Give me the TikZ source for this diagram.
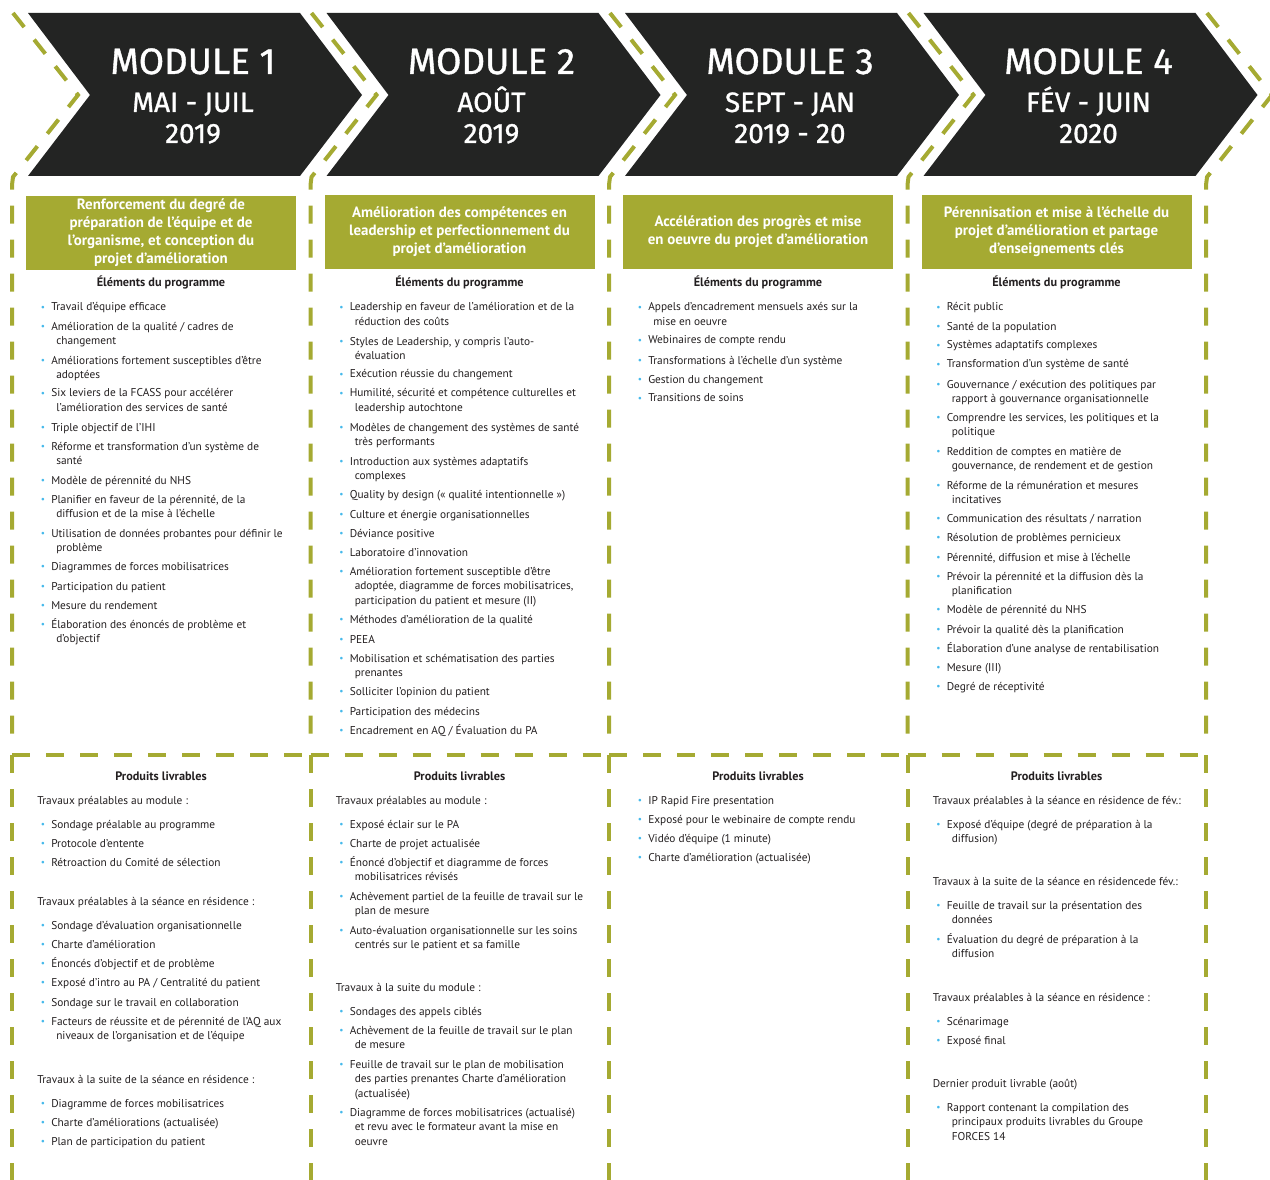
\documentclass[tikz,border=0pt]{standalone}
\usepackage{fontspec}
\setmainfont{PT Sans}
\newfontfamily\hdrfont[FakeBold=1]{Fira Sans}
\definecolor{chev}{RGB}{35,36,35}
\definecolor{olive}{RGB}{165,170,50}
\definecolor{txt}{RGB}{35,31,32}
\definecolor{bul}{RGB}{70,185,235}
\newcommand\bulmark{\llap{\textcolor{bul}{\fontsize{7pt}{7pt}\selectfont\raisebox{0.2pt}{•}}\hspace{4.6pt}}}
\newcommand\cind{\hspace*{3.75pt}}
\tikzset{
  itm/.style={anchor=base west, inner sep=0pt, text=txt, font=\fontsize{8.5pt}{10.9pt}\selectfont},
  hd/.style={anchor=base, inner sep=0pt, text=txt, font=\fontsize{9.2pt}{11pt}\selectfont\bfseries},
  gbox/.style={fill=olive, text=white, minimum width=202.5pt, minimum height=55.5pt, inner sep=0pt, align=center, font=\fontsize{11.2pt}{13.5pt}\selectfont\bfseries},
  mtitle/.style={anchor=base, inner sep=0pt, text=white, font=\hdrfont\fontsize{27.5pt}{27pt}\selectfont},
  msub/.style={anchor=base, inner sep=0pt, text=white, font=\hdrfont\fontsize{21pt}{21pt}\selectfont},
  dsh/.style={draw=olive, line width=3pt, dash pattern=on 13.5pt off 12pt},
}
\newcommand\myitem[4]{\node[itm] (#1) at ({51+298.5*#2},{#3+4}) {\bulmark\begin{tabular}[t]{@{}l@{}}#4\end{tabular}};}
\newcommand\myintro[4]{\node[itm] (#1) at ({37+298.5*#2},{#3+4}) {#4};}
\begin{document}
\begin{tikzpicture}[x=0.75pt,y=-0.75pt]
\path[use as bounding box] (0,0) rectangle (1270,1180);
\clip (0,0) rectangle (1270,1180);
% chevrons
\foreach \k in {0,...,3}{
  \fill[chev] ({28+298.5*\k},13) -- ({300+298.5*\k},13) -- ({362+298.5*\k},95) -- ({300+298.5*\k},176) -- ({28+298.5*\k},176) -- ({90+298.5*\k},95) -- cycle;
}
% dashed lines
\foreach \k in {0,...,4}{
  \draw[dsh] ({13+298.5*\k},13) -- ({78+298.5*\k},95) -- ({13+298.5*\k},177) -- ({12+298.5*\k},185) -- ({12+298.5*\k},748);
  \draw[dsh] ({12+298.5*\k},755) -- ({12+298.5*\k},1190);
}
\foreach \k in {0,...,3}{
  \draw[dsh] ({12+298.5*\k},755) -- ({12+298.5*(\k+1)},755);
}
% module headers
\foreach \k/\a/\b in {0/MAI - JUIL/2019, 1/AOÛT/2019, 2/SEPT - JAN/2019 - 20, 3/FÉV - JUIN/2020}{
  \pgfmathtruncatemacro\n{\k+1}
  \node[mtitle] (m\n) at ({193+298.5*\k},74) {MODULE \n};
  \node[msub] (md\n) at ({193+298.5*\k},112) {\a};
  \node[msub] (my\n) at ({193+298.5*\k},143) {\b};
}
% green title boxes
\node[gbox] (t1) at (161,233) {Renforcement du degré de\\préparation de l’équipe et de\\l’organisme, et conception du\\projet d’amélioration};
\node[gbox] (t2) at ({161+298.5},232) {Amélioration des compétences en\\leadership et perfectionnement du\\projet d’amélioration};
\node[gbox] (t3) at ({161+597},232) {Accélération des progrès et mise\\en oeuvre du projet d’amélioration};
\node[gbox] (t4) at ({161+895.5},232) {Pérennisation et mise à l’échelle du\\projet d’amélioration et partage\\d’enseignements clés};
% headings
\foreach \k in {0,...,3}{
  \node[hd] (pe\k) at ({161+298.5*\k},287) {Éléments du programme};
  \node[hd] (pl\k) at ({161+298.5*\k},780) {Produits livrables};
}
% column 1 elements
\myitem{a1}{0}{307}{Travail d’équipe efficace}
\myitem{a2}{0}{326}{Amélioration de la qualité / cadres de\\\cind changement}
\myitem{a3}{0}{360}{Améliorations fortement susceptibles d’être\\\cind adoptées}
\myitem{a4}{0}{393}{Six leviers de la FCASS pour accélérer\\\cind l’amélioration des services de santé}
\myitem{a5}{0}{427}{Triple objectif de l’IHI}
\myitem{a6}{0}{446}{Réforme et transformation d’un système de\\\cind santé}
\myitem{a7}{0}{480}{Modèle de pérennité du NHS}
\myitem{a8}{0}{499}{Planifier en faveur de la pérennité, de la\\\cind diffusion et de la mise à l’échelle}
\myitem{a9}{0}{533}{Utilisation de données probantes pour définir le\\\cind problème}
\myitem{a10}{0}{566}{Diagrammes de forces mobilisatrices}
\myitem{a11}{0}{586}{Participation du patient}
\myitem{a12}{0}{605}{Mesure du rendement}
\myitem{a13}{0}{624}{Élaboration des énoncés de problème et\\\cind d’objectif}
% column 2 elements
\myitem{b1}{1}{307}{Leadership en faveur de l’amélioration et de la\\\cind réduction des coûts}
\myitem{b2}{1}{341}{Styles de Leadership, y compris l’auto-\\\cind évaluation}
\myitem{b3}{1}{374}{Exécution réussie du changement}
\myitem{b4}{1}{393}{Humilité, sécurité et compétence culturelles et\\\cind leadership autochtone}
\myitem{b5}{1}{427}{Modèles de changement des systèmes de santé\\\cind très performants}
\myitem{b6}{1}{461}{Introduction aux systèmes adaptatifs\\\cind complexes}
\myitem{b7}{1}{494}{Quality by design (« qualité intentionnelle »)}
\myitem{b8}{1}{514}{Culture et énergie organisationnelles}
\myitem{b9}{1}{533}{Déviance positive}
\myitem{b10}{1}{552}{Laboratoire d’innovation}
\myitem{b11}{1}{571}{Amélioration fortement susceptible d’être\\\cind adoptée, diagramme de forces mobilisatrices,\\\cind participation du patient et mesure (II)}
\myitem{b12}{1}{619}{Méthodes d’amélioration de la qualité}
\myitem{b13}{1}{639}{PEEA}
\myitem{b14}{1}{658}{Mobilisation et schématisation des parties\\\cind prenantes}
\myitem{b15}{1}{691}{Solliciter l’opinion du patient}
\myitem{b16}{1}{711}{Participation des médecins}
\myitem{b17}{1}{730}{Encadrement en AQ / Évaluation du PA}
% column 3 elements
\myitem{c1}{2}{307}{Appels d’encadrement mensuels axés sur la\\\cind mise en oeuvre}
\myitem{c2}{2}{340}{Webinaires de compte rendu}
\myitem{c3}{2}{360}{Transformations à l’échelle d’un système}
\myitem{c4}{2}{379}{Gestion du changement}
\myitem{c5}{2}{398}{Transitions de soins}
% column 4 elements
\myitem{d1}{3}{307}{Récit public}
\myitem{d2}{3}{326}{Santé de la population}
\myitem{d3}{3}{345}{Systèmes adaptatifs complexes}
\myitem{d4}{3}{364}{Transformation d’un système de santé}
\myitem{d5}{3}{384}{Gouvernance / exécution des politiques par\\\cind rapport à gouvernance organisationnelle}
\myitem{d6}{3}{417}{Comprendre les services, les politiques et la\\\cind politique}
\myitem{d7}{3}{451}{Reddition de comptes en matière de\\\cind gouvernance, de rendement et de gestion}
\myitem{d8}{3}{485}{Réforme de la rémunération et mesures\\\cind incitatives}
\myitem{d9}{3}{518}{Communication des résultats / narration}
\myitem{d10}{3}{537}{Résolution de problèmes pernicieux}
\myitem{d11}{3}{557}{Pérennité, diffusion et mise à l’échelle}
\myitem{d12}{3}{576}{Prévoir la pérennité et la diffusion dès la\\\cind planification}
\myitem{d13}{3}{609}{Modèle de pérennité du NHS}
\myitem{d14}{3}{629}{Prévoir la qualité dès la planification}
\myitem{d15}{3}{648}{Élaboration d’une analyse de rentabilisation}
\myitem{d16}{3}{667}{Mesure (III)}
\myitem{d17}{3}{686}{Degré de réceptivité}
% deliverables column 1
\myintro{p1a}{0}{800}{Travaux préalables au module :}
\myitem{p1a1}{0}{824}{Sondage préalable au programme}
\myitem{p1a2}{0}{843}{Protocole d’entente}
\myitem{p1a3}{0}{862}{Rétroaction du Comité de sélection}
\myintro{p1b}{0}{901}{Travaux préalables à la séance en résidence :}
\myitem{p1b1}{0}{925}{Sondage d’évaluation organisationnelle}
\myitem{p1b2}{0}{944}{Charte d’amélioration}
\myitem{p1b3}{0}{963}{Énoncés d’objectif et de problème}
\myitem{p1b4}{0}{982}{Exposé d’intro au PA / Centralité du patient}
\myitem{p1b5}{0}{1002}{Sondage sur le travail en collaboration}
\myitem{p1b6}{0}{1021}{Facteurs de réussite et de pérennité de l’AQ aux\\\cind niveaux de l’organisation et de l’équipe}
\myintro{p1c}{0}{1079}{Travaux à la suite de la séance en résidence :}
\myitem{p1c1}{0}{1103}{Diagramme de forces mobilisatrices}
\myitem{p1c2}{0}{1122}{Charte d’améliorations (actualisée)}
\myitem{p1c3}{0}{1141}{Plan de participation du patient}
% deliverables column 2
\myintro{p2a}{1}{800}{Travaux préalables au module :}
\myitem{p2a1}{1}{824}{Exposé éclair sur le PA}
\myitem{p2a2}{1}{843}{Charte de projet actualisée}
\myitem{p2a3}{1}{862}{Énoncé d’objectif et diagramme de forces\\\cind mobilisatrices révisés}
\myitem{p2a4}{1}{896}{Achèvement partiel de la feuille de travail sur le\\\cind plan de mesure}
\myitem{p2a5}{1}{930}{Auto-évaluation organisationnelle sur les soins\\\cind centrés sur le patient et sa famille}
\myintro{p2b}{1}{987}{Travaux à la suite du module :}
\myitem{p2b1}{1}{1011}{Sondages des appels ciblés}
\myitem{p2b2}{1}{1030}{Achèvement de la feuille de travail sur le plan\\\cind de mesure}
\myitem{p2b3}{1}{1064}{Feuille de travail sur le plan de mobilisation\\\cind des parties prenantes Charte d’amélioration\\\cind (actualisée)}
\myitem{p2b4}{1}{1112}{Diagramme de forces mobilisatrices (actualisé)\\\cind et revu avec le formateur avant la mise en\\\cind oeuvre}
% deliverables column 3
\myitem{p3a1}{2}{800}{IP Rapid Fire presentation}
\myitem{p3a2}{2}{819}{Exposé pour le webinaire de compte rendu}
\myitem{p3a3}{2}{838}{Vidéo d’équipe (1 minute)}
\myitem{p3a4}{2}{857}{Charte d’amélioration (actualisée)}
% deliverables column 4
\myintro{p4a}{3}{800}{Travaux préalables à la séance en résidence de fév.:}
\myitem{p4a1}{3}{824}{Exposé d’équipe (degré de préparation à la\\\cind diffusion)}
\myintro{p4b}{3}{881}{Travaux à la suite de la séance en résidencede fév.:}
\myitem{p4b1}{3}{905}{Feuille de travail sur la présentation des\\\cind données}
\myitem{p4b2}{3}{939}{Évaluation du degré de préparation à la\\\cind diffusion}
\myintro{p4c}{3}{997}{Travaux préalables à la séance en résidence :}
\myitem{p4c1}{3}{1021}{Scénarimage}
\myitem{p4c2}{3}{1040}{Exposé final}
\myintro{p4d}{3}{1083}{Dernier produit livrable (août)}
\myitem{p4d1}{3}{1107}{Rapport contenant la compilation des\\\cind principaux produits livrables du Groupe\\\cind FORCES 14}
\end{tikzpicture}
\end{document}
